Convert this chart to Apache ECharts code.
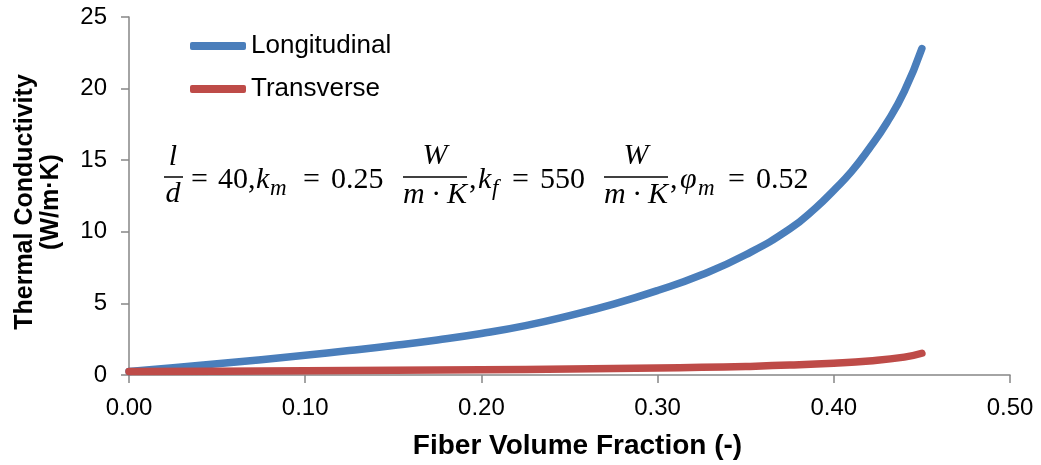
<!DOCTYPE html>
<html>
<head>
<meta charset="utf-8">
<script src="https://cdn.jsdelivr.net/npm/echarts@6/dist/echarts.min.js"></script>
<style>
html,body{margin:0;padding:0;background:#fff;}
#chart{width:1041px;height:465px;}
</style>
</head>
<body>
<div id="chart"></div>
<script>
// ---- data ----
var seriesNames = ['Longitudinal', 'Transverse'];
var fractionL = [0, 0.025, 0.05, 0.075, 0.10, 0.125, 0.15, 0.175, 0.20, 0.225, 0.25, 0.275, 0.30, 0.325, 0.35, 0.375, 0.39, 0.40, 0.41, 0.42, 0.43, 0.44, 0.45];
var longitudinal = [0.25, 0.51, 0.78, 1.07, 1.38, 1.71, 2.06, 2.45, 2.90, 3.45, 4.15, 4.95, 5.90, 7.00, 8.40, 10.2, 11.7, 12.9, 14.2, 15.8, 17.6, 19.8, 22.8];
var fractionT = [0, 0.05, 0.10, 0.15, 0.20, 0.25, 0.30, 0.325, 0.35, 0.375, 0.40, 0.42, 0.44, 0.45];
var transverse = [0.25, 0.27, 0.295, 0.325, 0.365, 0.415, 0.485, 0.535, 0.60, 0.69, 0.82, 0.98, 1.25, 1.52];
var xTicks = [0, 0.1, 0.2, 0.3, 0.4, 0.5];
var yTicks = [0, 5, 10, 15, 20, 25];
var xTitle = 'Fiber Volume Fraction (-)';
var yTitle = 'Thermal Conductivity\n(W/m·K)';

function pairs(xs, ys) { return xs.map(function (x, i) { return [x, ys[i]]; }); }

var axisColor = '#868686';
var sans = "'Liberation Sans', Arial, sans-serif";
var serif = "'Liberation Serif', 'Times New Roman', serif";

function eqText(t, x, y, opts) {
  opts = opts || {};
  return {
    type: 'text', z: 10,
    style: {
      text: t, x: x, y: y,
      fontFamily: serif,
      fontSize: opts.size || 30,
      fontStyle: opts.italic ? 'italic' : 'normal',
      fill: '#000',
      align: opts.align || 'left',
      verticalAlign: 'middle'
    }
  };
}
function bar(x1, x2, y) {
  return { type: 'line', z: 10, shape: { x1: x1, y1: y, x2: x2, y2: y }, style: { stroke: '#000', lineWidth: 1.5 } };
}

var mainY = 180;
var subY = 189;
var equation = [
  eqText('l', 173, 157, { italic: true, align: 'center' }),
  bar(164, 183, 177),
  eqText('d', 173, 194, { italic: true, align: 'center' }),
  eqText('=', 191, mainY),
  eqText('40,', 218, mainY),
  eqText('k', 256, mainY, { italic: true }),
  eqText('m', 270, subY, { italic: true, size: 23 }),
  eqText('=', 303, mainY),
  eqText('0.25', 331, mainY),
  eqText('W', 435, 156, { italic: true, align: 'center' }),
  bar(403, 467, 177),
  eqText('m · K', 435, 195, { italic: true, align: 'center' }),
  eqText(',', 469, mainY),
  eqText('k', 478, mainY, { italic: true }),
  eqText('f', 492, subY, { italic: true, size: 23 }),
  eqText('=', 512, mainY),
  eqText('550', 540, mainY),
  eqText('W', 636, 156, { italic: true, align: 'center' }),
  bar(604, 668, 177),
  eqText('m · K', 636, 195, { italic: true, align: 'center' }),
  eqText(',', 670, mainY),
  eqText('φ', 680, mainY, { italic: true }),
  eqText('m', 698, subY, { italic: true, size: 23 }),
  eqText('=', 728, mainY),
  eqText('0.52', 756, mainY)
];

var chart = echarts.init(document.getElementById('chart'), null, { renderer: 'canvas' });
chart.setOption({
  animation: false,
  backgroundColor: '#fff',
  grid: { left: 129, right: 31, top: 17, bottom: 89, containLabel: false },
  legend: {
    orient: 'vertical', left: 185, top: 28, itemGap: 17,
    itemWidth: 56, itemHeight: 8, icon: 'roundRect',
    textStyle: { fontFamily: sans, fontSize: 26, color: '#000' },
    data: seriesNames
  },
  xAxis: {
    type: 'value', min: xTicks[0], max: xTicks[xTicks.length - 1], interval: 0.1,
    name: xTitle, nameLocation: 'middle', nameGap: 57,
    nameTextStyle: { fontFamily: sans, fontSize: 28, fontWeight: 'bold', color: '#000', padding: [0, 0, 0, 16] },
    axisLine: { show: true, lineStyle: { color: axisColor, width: 1.5 } },
    axisTick: { show: true, length: 8, lineStyle: { color: axisColor, width: 1.5 } },
    axisLabel: { margin: 21, fontFamily: sans, fontSize: 24, color: '#000', formatter: function (v) { return v.toFixed(2); } },
    splitLine: { show: false }
  },
  yAxis: {
    type: 'value', min: yTicks[0], max: yTicks[yTicks.length - 1], interval: 5,
    axisLine: { show: true, lineStyle: { color: axisColor, width: 1.5 } },
    axisTick: { show: true, length: 8, lineStyle: { color: axisColor, width: 1.5 } },
    axisLabel: { margin: 22, fontFamily: sans, fontSize: 24, color: '#000' },
    splitLine: { show: false }
  },
  graphic: [
    {
      type: 'text', x: 38, y: 202, rotation: Math.PI / 2,
      style: { text: yTitle, fontFamily: sans, fontSize: 25, fontWeight: 'bold', fill: '#000', align: 'center', verticalAlign: 'middle', lineHeight: 26 }
    }
  ].concat(equation),
  series: [
    {
      name: seriesNames[0], type: 'line', data: pairs(fractionL, longitudinal),
      smooth: 0.5, showSymbol: false, symbol: 'none',
      lineStyle: { color: '#4A7EBB', width: 7.5, cap: 'round', join: 'round' },
      itemStyle: { color: '#4A7EBB' }
    },
    {
      name: seriesNames[1], type: 'line', data: pairs(fractionT, transverse),
      smooth: 0.5, showSymbol: false, symbol: 'none',
      lineStyle: { color: '#BE4B48', width: 7.5, cap: 'round', join: 'round' },
      itemStyle: { color: '#BE4B48' }
    }
  ]
});
</script>
</body>
</html>
